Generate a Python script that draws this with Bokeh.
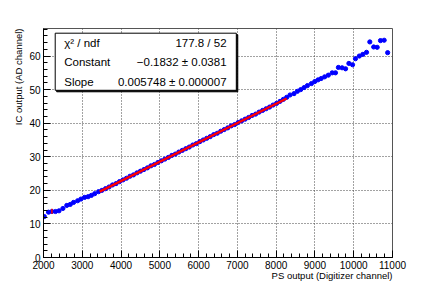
from bokeh.plotting import figure
from bokeh.models import Range1d, SingleIntervalTicker, Label, BoxAnnotation, ColumnDataSource, Title
from bokeh.embed import file_html
from bokeh.resources import INLINE

# ---- data ----
ps_output = [2020, 2130, 2217, 2310, 2400, 2500, 2600, 2690, 2775, 2880, 2965, 3060, 3150, 3235, 3320, 3420, 3508,
             3600, 3690, 3780, 3870, 3960, 4050, 4140, 4230, 4320, 4410, 4500, 4590, 4680, 4770, 4860, 4950,
             5040, 5130, 5220, 5310, 5400, 5490, 5580, 5670, 5760, 5850, 5940, 6030, 6120, 6210, 6300, 6390,
             6480, 6570, 6660, 6750, 6840, 6930, 7020, 7110, 7200, 7290, 7380, 7470, 7560, 7650, 7740, 7830,
             7920, 8010, 8100, 8186, 8271, 8357, 8460, 8548, 8633, 8720, 8806, 8910, 8995, 9080, 9160, 9250,
             9345, 9445, 9530, 9605, 9700, 9790, 9875, 9970, 10045, 10145, 10235, 10330, 10415, 10515, 10605,
             10690, 10785, 10875]
ic_output = [12.2, 13.5, 13.7, 13.7, 13.9, 14.6, 15.5, 15.8, 16.4, 16.9, 17.4, 17.9, 18.1, 18.5, 19.0, 19.6, 20.0,
             20.5, 21.0, 21.6, 22.0, 22.6, 23.1, 23.6, 24.2, 24.6, 25.2, 25.7, 26.2, 26.7, 27.3, 27.7, 28.3,
             28.8, 29.3, 29.8, 30.4, 30.8, 31.4, 31.9, 32.4, 32.9, 33.5, 33.9, 34.5, 35.0, 35.5, 36.0, 36.6,
             37.0, 37.6, 38.1, 38.6, 39.2, 39.6, 40.2, 40.7, 41.2, 41.7, 42.3, 42.7, 43.3, 43.8, 44.3, 44.8,
             45.4, 45.9, 46.5, 47.1, 47.7, 48.4, 48.8, 49.5, 50.0, 50.6, 51.2, 51.8, 52.4, 52.9, 53.3, 53.8,
             54.3, 55.0, 55.0, 56.6, 56.5, 56.2, 57.8, 57.4, 59.2, 60.0, 60.5, 61.1, 64.2, 62.7, 62.6,
             64.6, 64.7, 61.0]

err_x = [2217]
err_low = [13.0]
err_high = [14.5]

fit_constant = -0.1832
fit_constant_err = 0.0381
fit_slope = 0.005748
fit_slope_err = 0.000007
chi2 = 177.8
ndf = 52
fit_range = [3450, 8270]

x_title = "PS output (Digitizer channel)"
y_title = "IC output (AD channel)"
x_ticks_major = 1000
y_ticks_major = 10

FONT = "Liberation Sans"

p = figure(width=436, height=286, output_backend="svg", toolbar_location=None,
           x_range=Range1d(2000, 11000), y_range=Range1d(0, 68.2),
           min_border_left=43, min_border_right=44, min_border_top=28, min_border_bottom=29,
           background_fill_color="white", border_fill_color="white")

p.outline_line_color = "#555555"
p.outline_line_width = 1

for ax, tick in ((p.xaxis[0], x_ticks_major), (p.yaxis[0], y_ticks_major)):
    ax.ticker = SingleIntervalTicker(interval=tick, num_minor_ticks=5)
    ax.major_tick_in = 7
    ax.major_tick_out = 0
    ax.minor_tick_in = 4
    ax.minor_tick_out = 0
    ax.axis_line_color = "black"
    ax.major_tick_line_color = "black"
    ax.minor_tick_line_color = "black"
    ax.major_label_text_font = FONT
    ax.major_label_text_font_size = "10px"
    ax.major_label_text_color = "black"
    ax.axis_label = None
p.xaxis[0].major_label_standoff = 3
p.yaxis[0].major_label_standoff = 3

p.add_layout(Title(text=x_title, align="right", standoff=-8, text_font=FONT, text_font_size="9.5px",
                   text_font_style="normal", text_color="black"), "below")
p.add_layout(Title(text=y_title, align="right", standoff=5, text_font=FONT, text_font_size="9.5px",
                   text_font_style="normal", text_color="black"), "left")

for g in (p.xgrid[0], p.ygrid[0]):
    g.grid_line_color = "#444444"
    g.grid_line_dash = "1 2"
    g.grid_line_width = 1
p.xgrid[0].ticker = p.xaxis[0].ticker
p.ygrid[0].ticker = p.yaxis[0].ticker

src = ColumnDataSource(dict(x=ps_output, y=ic_output))
p.scatter("x", "y", source=src, marker="circle", size=4.2, fill_color="#0000ff", line_color="#0000ff")

p.segment(x0=err_x, y0=err_low, x1=err_x, y1=err_high, line_color="#ff0000", line_width=1.5)

fit_y = [fit_constant + fit_slope * xv for xv in fit_range]
p.line(fit_range, fit_y, line_color="#ff0000", line_width=2.5)

# stats box
shadow = BoxAnnotation(left=2340, right=7010, top=66.35, bottom=49.35,
                       fill_color="black", fill_alpha=1, line_color="black", line_alpha=1)
box = BoxAnnotation(left=2302, right=6972, top=66.8, bottom=49.8,
                    fill_color="white", fill_alpha=1, line_color="black", line_width=1, line_alpha=1)
p.add_layout(shadow)
p.add_layout(box)

rows = [("\u03c7\u00b2 / ndf", f"{chi2} / {ndf}", 63.8),
        ("Constant", f"\u2212{abs(fit_constant):.4f} \u00b1 {fit_constant_err:.4f}", 58.1),
        ("Slope", f"{fit_slope:.6f} \u00b1 {fit_slope_err:.6f}", 52.4)]
for name, val, yy in rows:
    p.add_layout(Label(x=2535, y=yy, text=name, text_font=FONT, text_font_size="11.5px",
                       text_baseline="middle", text_align="left", text_color="black"))
    p.add_layout(Label(x=6720, y=yy, text=val, text_font=FONT, text_font_size="11.5px",
                       text_baseline="middle", text_align="right", text_color="black"))

open("out.html", "w").write(file_html(p, INLINE))
